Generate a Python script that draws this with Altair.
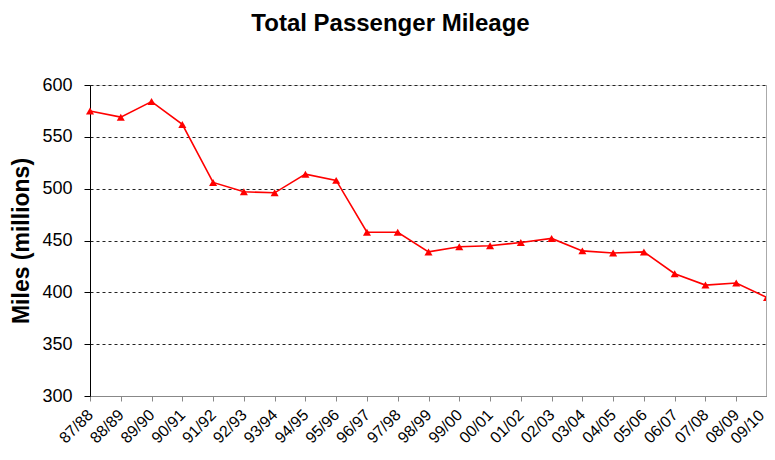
import altair as alt
import pandas as pd

years = ["87/88", "88/89", "89/90", "90/91", "91/92", "92/93", "93/94", "94/95",
         "95/96", "96/97", "97/98", "98/99", "99/00", "00/01", "01/02", "02/03",
         "03/04", "04/05", "05/06", "06/07", "07/08", "08/09", "09/10"]
miles = [575, 569, 584, 562, 506, 497, 496, 514, 508, 458, 458, 439, 444, 445,
         448, 452, 440, 438, 439, 418, 407, 409, 395]

df = pd.DataFrame({"year": years, "miles": miles})

FONT = "Liberation Sans"
W, H = 677, 311
LAST = years[-1]

x = alt.X("year:O", sort=years, title=None,
          scale=alt.Scale(type="point", padding=0),
          axis=alt.Axis(labelAngle=-45, labelAlign="right",
                        labelBaseline={"condition": {"test": f"datum.value === '{LAST}'",
                                                     "value": "bottom"},
                                       "value": "middle"},
                        labelPadding={"condition": {"test": f"datum.value === '{LAST}'",
                                                    "value": 17},
                                      "value": 11},
                        labelFontSize=16, labelColor="#000", labelFont=FONT,
                        domainColor="#888", tickColor="#888",
                        tickSize=5, grid=False, labelOverlap=False))
y = alt.Y("miles:Q", title="Miles (millions)",
          scale=alt.Scale(domain=[300, 600], nice=False, zero=False),
          axis=alt.Axis(values=[300, 350, 400, 450, 500, 550, 600],
                        labelFontSize=18, labelColor="#000", labelFont=FONT,
                        labelPadding=12, domainColor="#000", tickColor="#000",
                        tickSize=6, grid=True, gridColor="#222",
                        gridDash=[3, 3], gridWidth=1,
                        titleFont=FONT, titleFontSize=23, titleFontWeight="bold",
                        titleColor="#000", titlePadding=8))

base = alt.Chart(df)
line = base.mark_line(color="#FF0000", strokeWidth=1.6).encode(x=x, y=y)
pts = base.mark_point(shape="triangle-up", filled=True, color="#FF0000",
                      size=65, opacity=1).encode(x=x, y=y)
right = alt.Chart(df).mark_rule(color="#AAAAAA", strokeWidth=1.5).encode(
    x=alt.value(W), y=alt.value(0), y2=alt.value(H))

chart = (line + pts + right).properties(
    width=W, height=H,
    title=alt.TitleParams("Total Passenger Mileage", font=FONT, fontSize=24,
                          fontWeight="bold", color="#000", anchor="middle",
                          dx=-38, offset=40),
    autosize=alt.AutoSizeParams(type="none"),
    padding={"left": 82, "top": 77, "right": 0, "bottom": 52},
).configure_view(stroke=None).configure(background="white")

chart.save("out.html", embed_options={"renderer": "svg", "actions": False})
